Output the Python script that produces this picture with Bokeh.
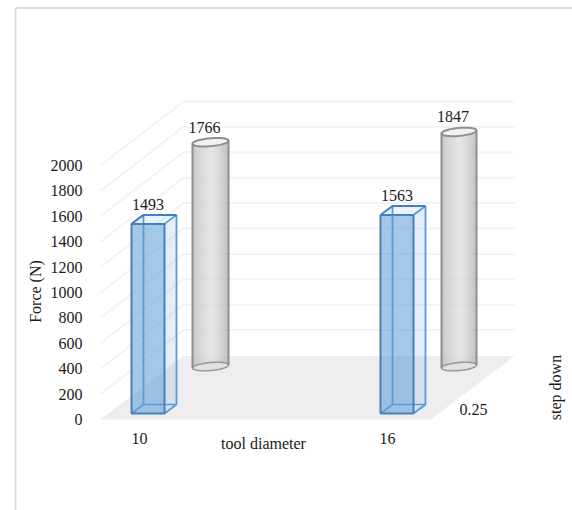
import numpy as np
from bokeh.embed import file_html
from bokeh.resources import INLINE
from bokeh.plotting import figure
from bokeh.models import Range1d, LinearAxis, FixedTicker
from bokeh.core.properties import value

tool_diameter = ["10", "16"]
step_down = ["0.25"]
force_front = [1493, 1563]
force_back = [1766, 1847]
force_ticks = [0, 200, 400, 600, 800, 1000, 1200, 1400, 1600, 1800, 2000]

FONT = "Liberation Serif"
TXT = "#1a1a1a"
k = 2000 / 254  # force units per pixel
Y = lambda px: (419 - px) * k

p = figure(width=572, height=510, output_backend="svg", toolbar_location=None,
           x_range=Range1d(0, 572), y_range=Range1d(Y(510), Y(0)),
           x_axis_location=None, y_axis_location=None, min_border=0,
           outline_line_color=None, background_fill_color="white", border_fill_color="white")
p.grid.visible = False

# frame of the chart area
p.line([15, 15], [Y(510), Y(7.5)], line_color="#dcdcdc", line_width=2)
p.line([15, 572], [Y(7.5), Y(7.5)], line_color="#dcdcdc", line_width=2)

# floor
p.patch([100, 430, 514, 183], [Y(419), Y(419), Y(355.5), Y(355.5)], fill_color="#eeeeee", line_color=None)

# walls
depth_x, depth_y = 83, 64 * k
for t in force_ticks[1:]:
    p.line([100, 183, 514], [t, t + depth_y, t + depth_y], line_color="#f3f3f3", line_width=2)

# value axis
ax = LinearAxis(fixed_location=88, ticker=FixedTicker(ticks=force_ticks),
                axis_line_color=None, major_tick_line_color=None, minor_tick_line_color=None,
                major_label_standoff=0, major_label_text_font=FONT,
                major_label_text_font_size="16px", major_label_text_color=TXT)
p.add_layout(ax, "left")


def grad(t):
    stops_t = [0, 0.12, 0.5, 0.62, 1]
    stops_c = [178, 196, 222, 218, 176]
    c = int(np.interp(t, stops_t, stops_c))
    return f"#{c:02x}{c:02x}{c:02x}"


def cylinder(x0, x1, v):
    base = Y(366)
    cx, rx, ry, tilt = (x0 + x1) / 2, (x1 - x0) / 2, 4.0 * k, 1.5 * k
    edges = np.arange(x0, x1 + 0.01, 1.0)
    mids = (edges[:-1] + edges[1:]) / 2
    u = (mids - cx) / rx
    tilt_y = u * tilt
    arc = np.sqrt(np.clip(1 - u ** 2, 0, 1)) * ry
    p.quad(left=edges[:-1], right=edges[1:], bottom=base + tilt_y - arc, top=base + v + tilt_y,
           fill_color=[grad((m - x0) / (x1 - x0)) for m in mids], line_color=None)
    th = np.linspace(0, 2 * np.pi, 80)
    ex = cx + rx * np.cos(th)
    ey = ry * np.sin(th) + tilt * np.cos(th)
    p.patch(ex, base + ey, fill_color="#e2e2e2", line_color="#9a9a9a", line_width=1.6)
    p.line([x0, x0], [base - tilt, base + v - tilt], line_color="#8f8f8f", line_width=2)
    p.line([x1, x1], [base + tilt, base + v + tilt], line_color="#8f8f8f", line_width=2)
    p.patch(ex, base + v + ey, fill_color="#f1f1f1", line_color="#8f8f8f", line_width=2)


def box(x0, x1, v):
    base = Y(413)
    dx, dy = 12, 9 * k
    blue, edge = "#5b9bd5", "#4480bd"
    top = base + v
    # bottom, side, top, front
    p.patch([x1, x1 + dx, x1 + dx, x1], [base, base + dy, top + dy, top], fill_color=blue, fill_alpha=0.17, line_color=None)
    p.patch([x0, x1, x1 + dx, x0 + dx], [top, top, top + dy, top + dy], fill_color=blue, fill_alpha=0.12, line_color=None)
    p.patch([x0, x1, x1, x0], [base, base, top, top], fill_color=blue, fill_alpha=0.55, line_color=None)
    p.line([x0 + dx, x0 + dx], [base + dy, top + dy], line_color=blue, line_width=1.8)
    p.line([x0, x0 + dx, x1 + dx], [base, base + dy, base + dy], line_color=blue, line_width=1.6)
    p.line([x1, x1 + dx, x1 + dx, x1], [base, base + dy, top + dy, top], line_color=blue, line_width=1.8)
    p.line([x0, x0 + dx, x1 + dx], [top, top + dy, top + dy], line_color=edge, line_width=2)
    p.patch([x0, x1, x1, x0], [base, base, top, top], fill_color=None, line_color=edge, line_width=2)


back_x = [(192, 228), (441, 476)]
front_x = [(131, 164), (380, 413)]
for (a, b), v in zip(back_x, force_back):
    cylinder(a, b, v)
for (a, b), v in zip(front_x, force_front):
    box(a, b, v)


def label(x, y, s, angle=0.0, align="center"):
    p.text([x], [y], text=[s], text_font=value(FONT), text_font_size="16px", text_color=TXT,
           text_align=align, text_baseline="middle", angle=angle)


for (a, b), v in zip(front_x, force_front):
    label((a + b) / 2, Y(413) + v + 19 * k, str(v))
for (a, b), v in zip(back_x, force_back):
    label((a + b) / 2 - 6, Y(366) + v + 15 * k, str(v))

for x, s in zip([139, 387], tool_diameter):
    label(x, Y(438), s)
label(263, Y(443), "tool diameter")
label(473, Y(409), step_down[0])
label(35, Y(291), "Force (N)", angle=np.pi / 2)
label(555, Y(387), "step down", angle=np.pi / 2)

open("out.html", "w").write(file_html(p, INLINE))
